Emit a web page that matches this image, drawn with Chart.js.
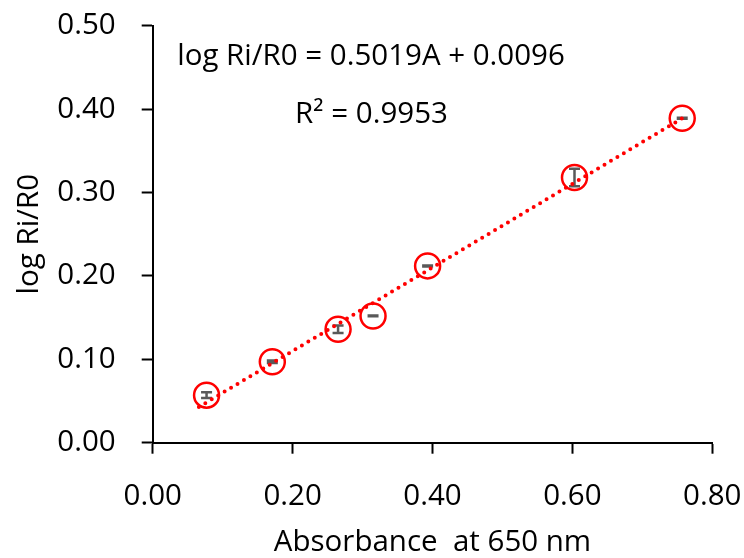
<!DOCTYPE html>
<html>
<head>
<meta charset="utf-8">
<script src="https://cdn.jsdelivr.net/npm/chart.js@4/dist/chart.umd.min.js"></script>
<style>
  html, body { margin: 0; padding: 0; background: #fff; }
  #wrap { width: 744px; height: 558px; }
</style>
</head>
<body>
<div id="wrap"><canvas id="c" width="744" height="558"></canvas></div>
<script>
// absorbance at 650 nm vs log Ri/R0
var absorbance = [0.077, 0.171, 0.265, 0.315, 0.393, 0.603, 0.757];
var logRatio = [0.057, 0.097, 0.136, 0.152, 0.212, 0.318, 0.389];
var logRatioErr = [0.0035, 0.0015, 0.0045, 0.0004, 0.0006, 0.0105, 0.0005];

// linear trendline ends
var trendX = [0.066, 0.757];
var trendY = [0.0428, 0.389];

var xTicks = [0, 0.2, 0.4, 0.6, 0.8];
var yTicks = [0, 0.1, 0.2, 0.3, 0.4, 0.5];

var eqText = "log Ri/R0 = 0.5019A + 0.0096";
var r2Text = "R\u00b2 = 0.9953";

var FONT = "'Open Sans', sans-serif";
var FSIZE = 29.5;

var pts = absorbance.map(function (x, i) { return { x: x, y: logRatio[i] }; });
var trend = trendX.map(function (x, i) { return { x: x, y: trendY[i] }; });

// keep tick labels from pushing the plot area around
function noOverflow(s) {
    s.paddingTop = 0; s.paddingBottom = 0;
    s.paddingLeft = 0; s.paddingRight = 0;
}

var errorBars = {
    id: "errorBars",
    beforeDatasetsDraw: function (chart) {
        var ctx = chart.ctx;
        var xs = chart.scales.x, ys = chart.scales.y;
        ctx.save();
        ctx.strokeStyle = "#595959";
        ctx.lineWidth = 2.5;
        var cap = 5.5;
        absorbance.forEach(function (x, i) {
            var px = xs.getPixelForValue(x);
            var top = ys.getPixelForValue(logRatio[i] + logRatioErr[i]);
            var bot = ys.getPixelForValue(logRatio[i] - logRatioErr[i]);
            ctx.beginPath();
            ctx.moveTo(px, top); ctx.lineTo(px, bot);
            ctx.moveTo(px - cap, top); ctx.lineTo(px + cap, top);
            ctx.moveTo(px - cap, bot); ctx.lineTo(px + cap, bot);
            ctx.stroke();
        });
        ctx.restore();
    }
};

var labels = {
    id: "labels",
    afterDraw: function (chart) {
        var ctx = chart.ctx;
        var xs = chart.scales.x, ys = chart.scales.y;
        ctx.save();
        ctx.fillStyle = "#000";
        ctx.font = FSIZE + "px " + FONT;
        ctx.textAlign = "left";
        ctx.textBaseline = "middle";
        ctx.fillText(eqText, xs.getPixelForValue(0.035), ys.getPixelForValue(0.4625));
        ctx.fillText(r2Text, xs.getPixelForValue(0.2036), ys.getPixelForValue(0.393));
        ctx.restore();
    }
};

new Chart(document.getElementById("c"), {
    type: "scatter",
    data: {
        datasets: [
            {
                label: "trend",
                type: "line",
                data: trend,
                borderColor: "#ff0000",
                borderWidth: 4,
                borderDash: [0, 7.5],
                borderCapStyle: "round",
                pointRadius: 0,
                fill: false,
                order: 1
            },
            {
                label: "samples",
                data: pts,
                pointStyle: "circle",
                pointRadius: 12.5,
                pointHoverRadius: 12.5,
                borderColor: "#ff0000",
                borderWidth: 2.5,
                backgroundColor: "rgba(0,0,0,0)",
                order: 2
            }
        ]
    },
    options: {
        responsive: false,
        animation: false,
        events: [],
        layout: { padding: { left: 0, right: 31.7, top: 25.7, bottom: 0 } },
        plugins: { legend: { display: false }, tooltip: { enabled: false } },
        scales: {
            x: {
                type: "linear",
                min: 0, max: 0.8,
                afterBuildTicks: function (s) { s.ticks = xTicks.map(function (v) { return { value: v }; }); },
                afterFit: function (s) { s.height = 115.3; noOverflow(s); },
                border: { display: true, color: "#000", width: 2 },
                grid: { display: true, drawOnChartArea: false, drawTicks: true, tickLength: 11, tickColor: "#000", tickWidth: 2 },
                ticks: {
                    color: "#000",
                    padding: 25,
                    maxRotation: 0,
                    font: { family: FONT, size: FSIZE },
                    callback: function (v) { return v.toFixed(2); }
                },
                title: {
                    display: true,
                    text: "Absorbance  at 650 nm",
                    color: "#000",
                    font: { family: FONT, size: FSIZE },
                    padding: { top: 0, bottom: -2 }
                }
            },
            y: {
                type: "linear",
                min: 0, max: 0.5,
                afterBuildTicks: function (s) { s.ticks = yTicks.map(function (v) { return { value: v }; }); },
                afterFit: function (s) { s.width = 152.7; noOverflow(s); },
                border: { display: true, color: "#000", width: 2 },
                grid: { display: true, drawOnChartArea: false, drawTicks: true, tickLength: 11, tickColor: "#000", tickWidth: 2 },
                ticks: {
                    color: "#000",
                    padding: 26,
                    font: { family: FONT, size: FSIZE },
                    callback: function (v) { return v.toFixed(2); }
                },
                title: {
                    display: true,
                    text: "log Ri/R0",
                    color: "#000",
                    font: { family: FONT, size: FSIZE },
                    padding: { top: 12, bottom: 0 }
                }
            }
        }
    },
    plugins: [errorBars, labels]
});
</script>
</body>
</html>
